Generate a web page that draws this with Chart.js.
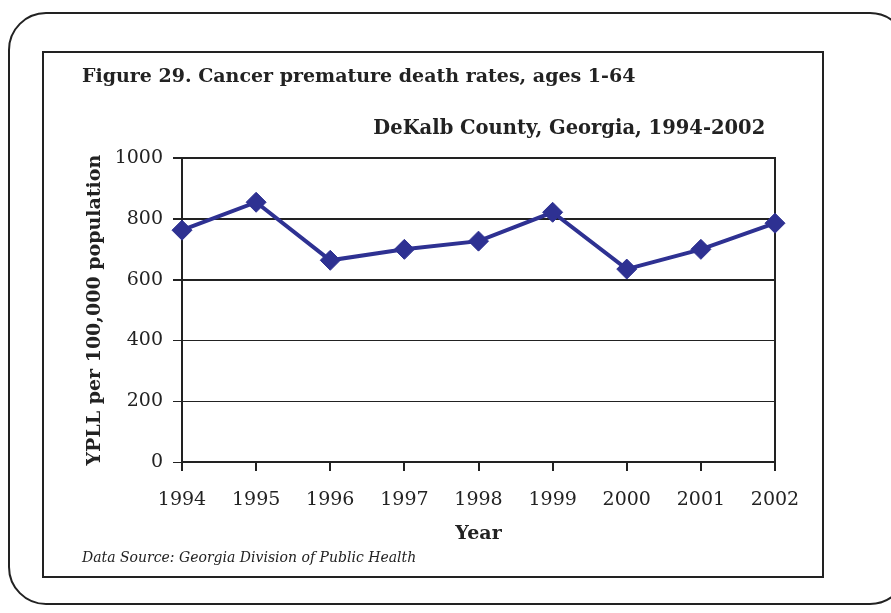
<!DOCTYPE html>
<html>
<head>
<meta charset="utf-8">
<script src="https://cdn.jsdelivr.net/npm/chart.js@4.4.1/dist/chart.umd.min.js"></script>
<style>
  html, body { margin: 0; padding: 0; background: #fff; }
  body { width: 891px; height: 613px; position: relative; overflow: hidden; }
  .outer {
    position: absolute; left: 8px; top: 12px; width: 900px; height: 593px;
    border: 2px solid #222; border-radius: 38px; box-sizing: border-box;
  }
  .frame {
    position: absolute; left: 42px; top: 51px; width: 782px; height: 527px;
    border: 2px solid #222; box-sizing: border-box;
  }
  .wrap { position: absolute; left: 43px; top: 52px; width: 780px; height: 525px; }
  .source {
    position: absolute; left: 82px; top: 549px;
    font: italic 14px "DejaVu Serif", serif; color: #222;
  }
</style>
</head>
<body>
<div class="outer"></div>
<div class="frame"></div>
<div class="wrap"><canvas id="chart"></canvas></div>
<div class="source">Data Source: Georgia Division of Public Health</div>
<script>
const years = ["1994", "1995", "1996", "1997", "1998", "1999", "2000", "2001", "2002"];
const ypll = [763, 855, 664, 700, 727, 822, 635, 700, 786];

const serif = "'DejaVu Serif', serif";
const ink = "#222";
const navy = "#2e3192";

const ctx = document.getElementById("chart").getContext("2d");
new Chart(ctx, {
  type: "line",
  data: {
    labels: years,
    datasets: [{
      data: ypll,
      borderColor: navy,
      backgroundColor: navy,
      borderWidth: 4,
      pointStyle: "rectRot",
      pointRadius: 10,
      pointBorderWidth: 1,
      tension: 0
    }]
  },
  options: {
    responsive: true,
    maintainAspectRatio: false,
    animation: false,
    layout: { padding: { left: 39, right: 48, top: 14, bottom: 32 } },
    plugins: {
      legend: { display: false },
      tooltip: { enabled: false },
      title: {
        display: true,
        text: "Figure 29. Cancer premature death rates, ages 1-64",
        align: "start",
        color: ink,
        font: { family: serif, size: 19, weight: "bold" },
        padding: { top: 0, bottom: 28 }
      },
      subtitle: {
        display: true,
        // en space keeps the line ending a little short of the plot edge
        text: "DeKalb County, Georgia, 1994-2002\u2002",
        align: "end",
        color: ink,
        font: { family: serif, size: 19.5, weight: "bold" },
        padding: { top: 0, bottom: 18 }
      }
    },
    scales: {
      x: {
        offset: false,
        grid: { drawOnChartArea: false, drawTicks: true, tickLength: 9, color: ink, lineWidth: 2 },
        border: { color: ink, width: 2 },
        ticks: { color: ink, font: { family: serif, size: 19 }, padding: 18, maxRotation: 0 },
        title: {
          display: true, text: "Year", color: ink,
          font: { family: serif, size: 19, weight: "bold" },
          padding: { top: 10, bottom: 0 }
        },
        afterFit: (s) => { s.height = 83; }
      },
      y: {
        min: 0, max: 1000,
        ticks: {
          stepSize: 200, color: ink, font: { family: serif, size: 19 }, padding: 10,
          callback: (v) => String(v)
        },
        grid: {
          color: ink,
          lineWidth: (c) => (c.tick && c.tick.value >= 600 ? 2 : 1),
          tickLength: 9
        },
        border: { color: ink, width: 2 },
        title: {
          display: true, text: "YPLL per 100,000 population", color: ink,
          font: { family: serif, size: 19, weight: "bold" },
          padding: { top: 2, bottom: 0 }
        },
        afterFit: (s) => { s.width = 100; }
      },
      y2: {
        position: "right",
        min: 0, max: 1000,
        ticks: { display: false },
        grid: { drawOnChartArea: false, drawTicks: false },
        border: { color: ink, width: 2 },
        afterFit: (s) => { s.width = 0; }
      }
    }
  }
});
</script>
</body>
</html>
